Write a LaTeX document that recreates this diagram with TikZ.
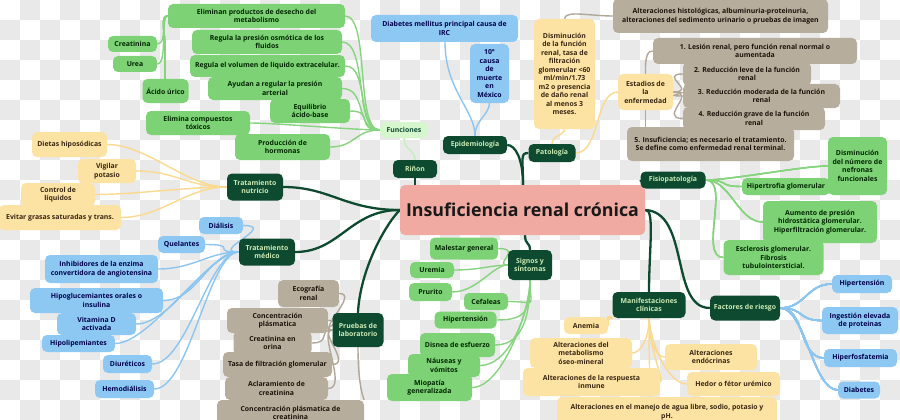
\documentclass[tikz,border=0pt]{standalone}
\usepackage{fontspec}
\setmainfont{Open Sans}
\definecolor{dkg}{HTML}{0E4A30}
\definecolor{dkt}{HTML}{CDEBB5}
\definecolor{grn}{HTML}{7ED276}
\definecolor{grl}{HTML}{86D47E}
\definecolor{lgr}{HTML}{D6F6CE}
\definecolor{blu}{HTML}{8DC8F3}
\definecolor{bll}{HTML}{8CC6F0}
\definecolor{yel}{HTML}{FDE3A3}
\definecolor{yll}{HTML}{FBD98E}
\definecolor{tau}{HTML}{B7AD9C}
\definecolor{tal}{HTML}{B0A797}
\definecolor{pnk}{HTML}{F0AAA2}
\definecolor{chk}{HTML}{E9E9E9}
\pgfdeclarelayer{back}
\pgfdeclarelayer{bg}
\pgfsetlayers{back,bg,main}
\tikzset{
  base/.style={rounded corners=5pt, font=\fontsize{6.9}{8.5}\selectfont\bfseries, align=center, inner sep=1pt},
  box/.style 2 args={minimum width=#1pt, minimum height=#2pt},
  dk/.style={base, fill=dkg, text=dkt},
  gr/.style={base, fill=grn, text=black!85!green},
  lg/.style={base, fill=lgr, text=dkg},
  bl/.style={base, fill=blu, text=blue!30!black},
  ye/.style={base, fill=yel, text=brown!30!black},
  tp/.style={base, fill=tau, text=black!85!brown},
  dline/.style={draw=dkg, line width=2.3pt},
  gline/.style={draw=grl, line width=1.4pt},
  lgline/.style={draw=lgr!80!grl, line width=1.6pt},
  bline/.style={draw=bll, line width=1.4pt},
  yline/.style={draw=yll, line width=1.4pt},
  tline/.style={draw=tal, line width=1.4pt},
}
\newcommand\mmL[3]{\draw[#1] (#2.west) .. controls +(-25,0) and +(25,0) .. (#3.east);}
\newcommand\mmR[3]{\draw[#1] (#2.east) .. controls +(25,0) and +(-25,0) .. (#3.west);}
\begin{document}
\begin{tikzpicture}[x=1pt,y=-1pt]
\useasboundingbox (0,0) rectangle (900,420);
\begin{pgfonlayer}{back}
\fill[white] (0,0) rectangle (900,420);
\foreach \j in {0,2,...,20} {\foreach \i in {1,3,...,45} {\fill[chk] (\i*20,\j*20) rectangle ++(20,20);}}
\foreach \j in {1,3,...,21} {\foreach \i in {0,2,...,44} {\fill[chk] (\i*20,\j*20) rectangle ++(20,20);}}
\end{pgfonlayer}

% centre
\node[base, fill=pnk, box={245}{50}, font=\fontsize{17.8}{20}\selectfont\bfseries, text=black!90] (irc) at (522.5,210) {Insuficiencia renal crónica};

% main dark nodes
\node[dk, box={44}{18}] (rin) at (415,169) {Riñon};
\node[lg, box={48}{16}] (fun) at (404,130) {Funciones};
\node[dk, box={64}{18}] (epi) at (475,145) {Epidemiología};
\node[dk, box={47}{18}] (pat) at (552,153) {Patología};
\node[dk, box={65}{17}] (fis) at (673,180) {Fisiopatología};
\node[dk, box={56}{27}] (tnu) at (255,187) {Tratamiento\\nutricio};
\node[dk, box={56}{27}] (tme) at (267,252) {Tratamiento\\médico};
\node[dk, box={44}{30}] (sig) at (530,265) {Signos y\\síntomas};
\node[dk, box={51}{34}] (pru) at (358,330) {Pruebas de\\laboratorio};
\node[dk, box={73}{26}] (man) at (649,305) {Manifestaciones\\clínicas};
\node[dk, box={70}{25}] (fac) at (745,308) {Factores de riesgo};

% Funciones
\node[gr, box={177}{24}] (f1) at (256.5,16) {Eliminan productos de desecho del\\metabolismo};
\node[gr, box={150}{24}] (f2) at (267,42) {Regula la presión osmótica de los\\fluidos};
\node[gr, box={155}{22}] (f3) at (267.5,66) {Regula el volumen de liquido extracelular.};
\node[gr, box={134}{23}] (f4) at (275,88.5) {Ayudan a regular la presión\\arterial};
\node[gr, box={80}{24}] (f5) at (310,111) {Equilibrio\\ácido-base};
\node[gr, box={104}{24}] (f6) at (198,123) {Elimina compuestos\\tóxicos};
\node[gr, box={95}{26}] (f7) at (282.5,147) {Producción de\\hormonas};
\node[gr, box={49}{16}] (cre) at (132.5,44) {Creatinina};
\node[gr, box={44}{16}] (ure) at (135,64) {Urea};
\node[gr, box={46}{24}] (aci) at (165.5,91) {Ácido úrico};

% Epidemiologia
\node[bl, box={147}{27}] (dm) at (444.5,28.5) {Diabetes mellitus principal causa de\\IRC};
\node[bl, box={39}{59}] (cau) at (489.5,73.5) {10°\\causa\\de\\muerte\\en\\México};

% Patologia
\node[ye, box={61}{110}] (dis) at (564.5,74) {Disminución\\de la función\\renal, tasa de\\filtración\\glomerular <60\\ml/min/1.73\\m2 o presencia\\de daño renal\\al menos 3\\meses.};
\node[ye, box={55}{36}] (est) at (645.5,92) {Estadios de\\la\\enfermedad};
\node[tp, box={215}{34}] (alt) at (720.5,16) {Alteraciones histológicas, albuminuria-proteinuria,\\alteraciones del sedimento urinario o pruebas de imagen};
\node[tp, box={204}{26}] (e1) at (755,51) {1. Lesión renal, pero función renal normal o\\aumentada};
\node[tp, box={128}{24}] (e2) at (747,74) {2. Reducción leve de la función\\renal};
\node[tp, box={157}{24}] (e3) at (761.5,96) {3. Reducción moderada de la función\\renal};
\node[tp, box={142}{23}] (e4) at (754,118.5) {4. Reducción grave de la función\\renal};
\node[tp, box={167}{34}] (e5) at (710.5,144) {5. Insuficiencia; es necesario el tratamiento.\\Se define como enfermedad renal terminal.};

% Fisiopatologia
\node[gr, box={88}{17}] (hip) at (786,186.5) {Hipertrofia glomerular};
\node[gr, box={59}{58}] (dnf) at (857.5,166) {Disminución\\del número de\\nefronas\\funcionales};
\node[gr, box={114}{42}] (aum) at (820,222) {Aumento de presión\\hidrostática glomerular.\\Hiperfiltración glomerular.};
\node[gr, box={100}{35}] (esc) at (773.5,257.5) {Esclerosis glomerular.\\Fibrosis\\tubulointersticial.};

% Factores de riesgo
\node[bl, box={60}{18}] (hta) at (862,284) {Hipertensión};
\node[bl, box={76}{27}] (ing) at (860,320.5) {Ingestión elevada\\de proteinas};
\node[bl, box={73}{18}] (hfo) at (860.5,358) {Hiperfosfatemia};
\node[bl, box={42}{17}] (dia) at (859,390) {Diabetes};

% Manifestaciones
\node[ye, box={44}{17}] (ane) at (586,325.5) {Anemia};
\node[ye, box={220}{30}] (agu) at (667,412) {Alteraciones en el manejo de agua libre, sodio, potasio y\\pH.};
\node[ye, box={137}{28}] (res) at (591.5,382) {Alteraciones de la respuesta\\inmune};
\node[ye, box={102}{30}] (aom) at (581,353) {Alteraciones del\\metabolismo\\óseo-mineral};
\node[ye, box={93}{24}] (hed) at (733.5,384) {Hedor o fétor urémico};
\node[ye, box={92}{26}] (end) at (711,357) {Alteraciones\\endócrinas};

% Signos y sintomas
\node[gr, box={68}{22}] (mal) at (464,248.5) {Malestar general};
\node[gr, box={44}{16}] (urm) at (432,270) {Uremia};
\node[gr, box={43}{18}] (pur) at (430.5,292) {Prurito};
\node[gr, box={44}{17}] (cef) at (486,301.5) {Cefaleas};
\node[gr, box={62}{17}] (hts) at (465.5,320) {Hipertensión};
\node[gr, box={75}{24}] (dis2) at (457.5,345) {Disnea de esfuerzo};
\node[gr, box={72}{23}] (nau) at (444,365.5) {Náuseas y\\vómitos};
\node[gr, box={85}{27}] (mio) at (429.5,387.5) {Miopatía\\generalizada};

% Pruebas
\node[tp, box={61}{27}] (eco) at (308.5,293.5) {Ecografía\\renal};
\node[tp, box={147}{26}] (ccr) at (290.5,413) {Concentración plásmatica de\\creatinina};
\node[tp, box={103}{23}] (acl) at (276.5,388.5) {Aclaramiento de\\creatinina};
\node[tp, box={109}{25}] (tas) at (277.5,364.5) {Tasa de filtración glomerular};
\node[tp, box={78}{24}] (cor) at (272.5,343) {Creatinina en\\orina};
\node[tp, box={101}{25}] (cpl) at (277.5,320.5) {Concentración\\plásmatica};

% Tratamiento medico
\node[bl, box={44}{17}] (dil) at (221,225.5) {Diálisis};
\node[bl, box={47}{17}] (que) at (181.5,244.5) {Quelantes};
\node[bl, box={113}{28}] (inh) at (101.5,269) {Inhibidores de la enzima\\convertidora de angiotensina};
\node[bl, box={133}{25}] (hgl) at (96.5,300.5) {Hipoglucemiantes orales o\\insulina};
\node[bl, box={79}{22}] (vit) at (96.5,324) {Vitamina D\\activada};
\node[bl, box={73}{17}] (hli) at (78.5,343.5) {Hipolipemiantes};
\node[bl, box={49}{18}] (diu) at (127.5,364) {Diuréticos};
\node[bl, box={59}{18}] (hem) at (124.5,389) {Hemodiálisis};

% Tratamiento nutricio
\node[ye, box={75}{25}] (die) at (69.5,144.5) {Dietas hiposódicas};
\node[ye, box={58}{24}] (vig) at (107,171) {Vigilar\\potasio};
\node[ye, box={74}{23}] (con) at (58,194.5) {Control de\\líquidos};
\node[ye, box={122}{25}] (evi) at (60,217.5) {Evitar grasas saturadas y trans.};

\begin{pgfonlayer}{bg}
% dark connectors
\draw[dline] (rin.south) -- (rin.south |- irc.north);
\draw[dline] (irc.north -| 523,0) .. controls (523,158) and (515,145) .. (epi.east);
\draw[dline] (irc.north -| 523,0) .. controls (523,158) and (520,153) .. (pat.west);
\draw[dline] (irc.north east) .. controls (640,180) .. (fis.west);
\draw[dline] (irc.west) .. controls (345,210) and (330,187) .. (tnu.east);
\draw[dline] (irc.west) .. controls (350,210) and (340,252) .. (tme.east);
\draw[dline] (irc.west) .. controls (385,225) and (360,270) .. (pru.north);
\draw[dline] (irc.south -| 525,0) .. controls (525,245) and (530,242) .. (sig.north);
\draw[dline] (irc.east) .. controls (655,208) and (649,250) .. (man.north);
\draw[dline] (irc.east) .. controls (690,212) and (670,308) .. (fac.west);
% Funciones
\draw[lgline] (fun.south) .. controls (404,150) and (415,150) .. (rin.north);
\foreach \n in {f1,f2,f3,f4,f5,f6,f7} \mmL{gline}{fun}{\n}
\draw[gline] (f1.west) .. controls (160,16) and (165,30) .. (165,50) -- (aci.north -| 165,0);
\draw[gline] (f1.west) .. controls (160,16) and (168,44) .. (cre.east);
\draw[gline] (f1.west) .. controls (160,16) and (168,64) .. (ure.east);
% Epidemiologia
\draw[bline] (epi.north) .. controls (475,110) and (445,90) .. (dm.south -| 445,0);
\draw[bline] (epi.north) .. controls (475,120) and (489,115) .. (cau.south);
% Patologia
\draw[yline] (pat.north) .. controls (552,135) and (565,135) .. (dis.south);
\draw[yline] (pat.east) .. controls (600,153) and (595,92) .. (est.west);
\draw[tline] (dis.north) .. controls (565,10) and (590,16) .. (alt.west);
\draw[tline] (est.north) .. controls (645,55) and (648,51) .. (e1.west);
\draw[tline] (est.south) -- (e5.north -| est.south);
\foreach \n in {e2,e3,e4} \mmR{tline}{est}{\n}
% Fisiopatologia
\foreach \n in {dnf,hip,aum,esc} \mmR{gline}{fis}{\n}
% Factores
\foreach \n in {hta,ing,hfo,dia} \mmR{bline}{fac}{\n}
% Manifestaciones
\draw[yline] (man.south west) .. controls (608,316) .. (ane.east);
\draw[yline] (man.south) .. controls (649,340) and (640,353) .. (aom.east);
\draw[yline] (man.south) .. controls (649,350) and (665,382) .. (res.east);
\draw[yline] (man.south) .. controls (649,340) and (655,357) .. (end.west);
\draw[yline] (man.south) .. controls (652,350) and (670,384) .. (hed.west);
\draw[yline] (man.south) .. controls (649,360) and (650,380) .. (agu.north -| 650,0);
% Signos
\foreach \n in {mal,urm,pur} \draw[gline] (sig.west) .. controls +(-15,0) and +(25,0) .. (\n.east);
\foreach \n in {cef,hts,dis2,nau,mio} \draw[gline] (sig.south) .. controls +(0,30) and +(30,0) .. (\n.east);
% Pruebas
\foreach \n in {eco,cpl,cor,tas,acl} \draw[tline] (pru.west) .. controls +(-15,0) and +(20,0) .. (\n.east);
\draw[tline] (pru.south) .. controls (358,380) and (362,395) .. (ccr.north east);
% Tratamiento medico
\foreach \n in {dil,que,inh,hgl,vit,hli,diu,hem} \draw[bline] (tme.west) .. controls +(-30,0) and +(35,0) .. (\n.east);
% Tratamiento nutricio
\foreach \n in {die,vig,con,evi} \draw[yline] (tnu.west) .. controls +(-40,0) and +(40,0) .. (\n.east);
\end{pgfonlayer}
\end{tikzpicture}
\end{document}
